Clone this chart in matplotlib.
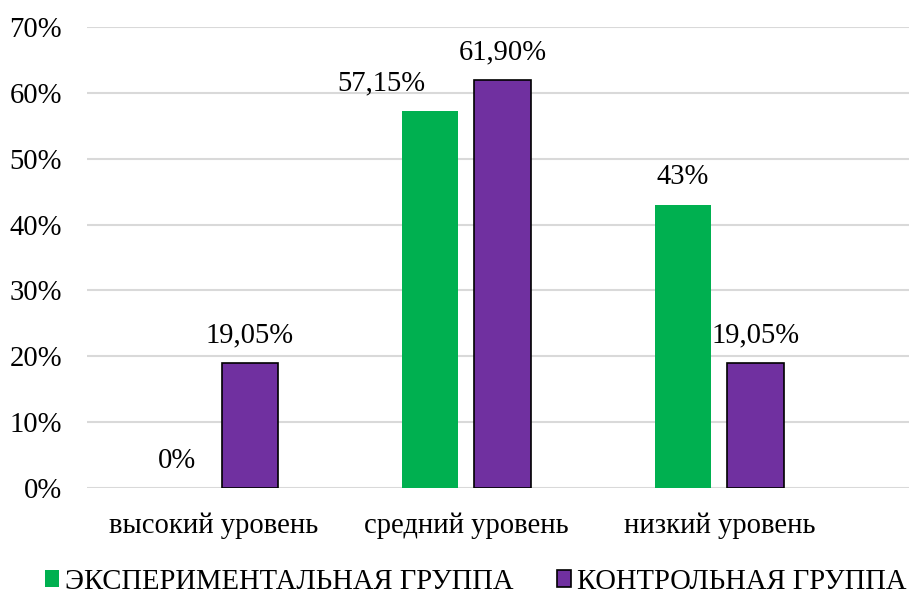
import matplotlib.pyplot as plt
from matplotlib.patches import Patch
import numpy as np

plt.rcParams['font.family'] = ['Liberation Serif', 'DejaVu Serif']

categories = ['высокий уровень', 'средний уровень', 'низкий уровень']
experimental = [0.0, 57.15, 43.0]
control = [19.05, 61.90, 19.05]
exp_labels = ['0%', '57,15%', '43%']
ctrl_labels = ['19,05%', '61,90%', '19,05%']
series_names = ['ЭКСПЕРИМЕНТАЛЬНАЯ ГРУППА', 'КОНТРОЛЬНАЯ ГРУППА']

green = '#00B050'
purple = '#7030A0'
fs = 20.6

fig = plt.figure(figsize=(9.09, 5.96), dpi=100)
ax = fig.add_axes([0.0957, 0.1804, 0.9043, 0.7751])

x = np.arange(len(categories))
w = 0.222
off = 0.143
ax.bar(x - off, experimental, w, color=green, zorder=3)
ax.bar(x + off, control, w, color=purple, edgecolor='black', linewidth=1.2, zorder=3)

# подписи значений над столбцами
for i in range(len(categories)):
    dx = -35 if i == 1 else 0  # подпись 57,15% сдвинута влево
    ax.annotate(exp_labels[i], (x[i] - off, experimental[i]), xytext=(dx, 20),
                textcoords='offset points', ha='center', va='center', fontsize=fs)
    ax.annotate(ctrl_labels[i], (x[i] + off, control[i]), xytext=(0, 20),
                textcoords='offset points', ha='center', va='center', fontsize=fs)

ax.set_xlim(-0.5, 2.75)
ax.set_ylim(0, 70)
ax.set_yticks(range(0, 71, 10))
ax.set_yticklabels([f'{v}%' for v in range(0, 71, 10)], fontsize=fs)
ax.set_xticks(x)
ax.set_xticklabels(categories, fontsize=fs)
ax.tick_params(length=0)
ax.tick_params(axis='y', pad=18)
ax.tick_params(axis='x', pad=17)
ax.grid(axis='y', color='#D9D9D9', linewidth=1.5, zorder=0)
for s in ax.spines.values():
    s.set_visible(False)

handles = [Patch(facecolor=green, edgecolor='none'),
           Patch(facecolor=purple, edgecolor='black', linewidth=1.2)]
fig.legend(handles, series_names, loc='center left', bbox_to_anchor=(0.037, 0.024),
           ncol=2, frameon=False, fontsize=fs, handlelength=0.5, handleheight=0.5,
           handletextpad=0.2, columnspacing=1.5, borderaxespad=0)

fig.savefig('out.png', dpi=100)
